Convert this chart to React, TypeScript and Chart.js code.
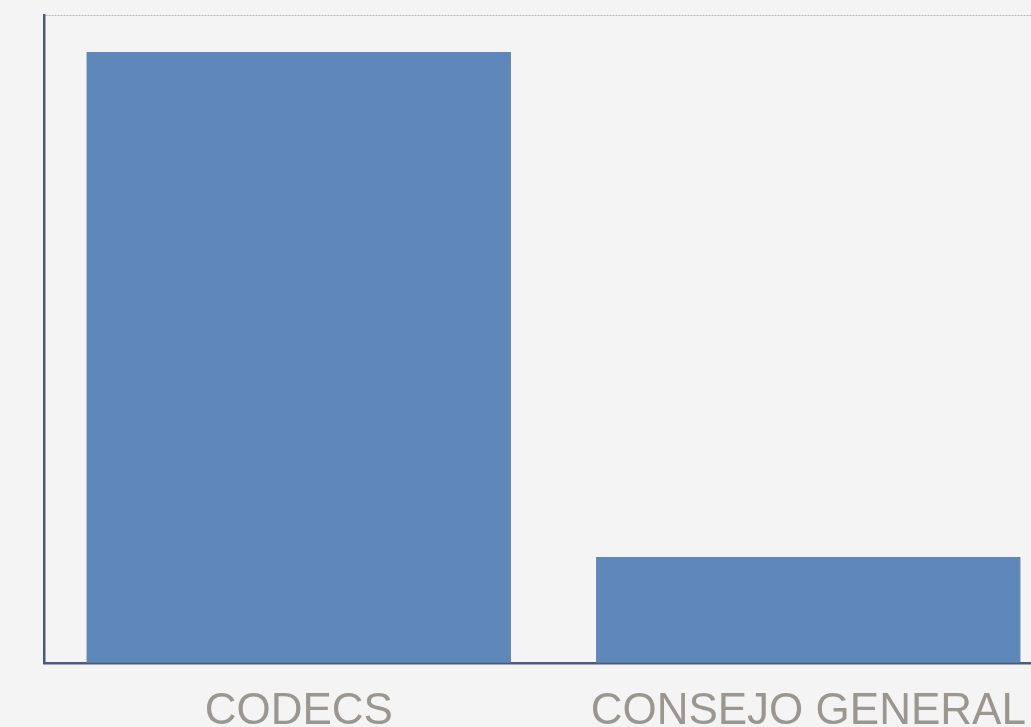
import React, { useEffect, useRef } from "react";
import { Chart, registerables } from "chart.js";

Chart.register(...registerables);

const categories = ["CODECS", "CONSEJO GENERAL"];
const values = [94.3, 16.4];
const axisMax = 100;

export default function App() {
  const ref = useRef<HTMLCanvasElement | null>(null);

  useEffect(() => {
    document.body.style.margin = "0";
    document.body.style.background = "#f4f4f4";
    document.body.style.overflow = "hidden";
    if (!ref.current) return;
    const chart = new Chart(ref.current, {
      type: "bar",
      data: {
        labels: categories,
        datasets: [
          {
            data: values,
            backgroundColor: "#5f87b9",
            borderWidth: 0,
            categoryPercentage: 1,
            barPercentage: 0.833,
          },
        ],
      },
      options: {
        responsive: false,
        animation: false,
        layout: { padding: { left: 44, top: 15, right: 0, bottom: 0 } },
        plugins: { legend: { display: false }, tooltip: { enabled: false } },
        scales: {
          x: {
            grid: { display: false, drawTicks: false },
            border: { display: true, color: "#4b5a79", width: 2.5 },
            ticks: {
              color: "#9b968f",
              padding: 22,
              font: { family: "'Liberation Sans', Arial, sans-serif", size: 44 },
              maxRotation: 0,
              autoSkip: false,
            },
          },
          y: {
            min: 0,
            max: axisMax,
            ticks: { display: false, stepSize: axisMax },
            grid: {
              drawTicks: false,
              color: (ctx: any) => (ctx.tick && ctx.tick.value === axisMax ? "#b8b8b8" : "rgba(0,0,0,0)"),
              lineWidth: 1,
            },
            border: { display: true, color: "#4b5a79", width: 2.5, dash: [2, 1] },
          },
        },
      },
    });
    return () => chart.destroy();
  }, []);

  return (
    <div style={{ width: 1063, height: 760 }}>
      <canvas ref={ref} width={1063} height={760} style={{ width: 1063, height: 760, display: "block" }} />
    </div>
  );
}
